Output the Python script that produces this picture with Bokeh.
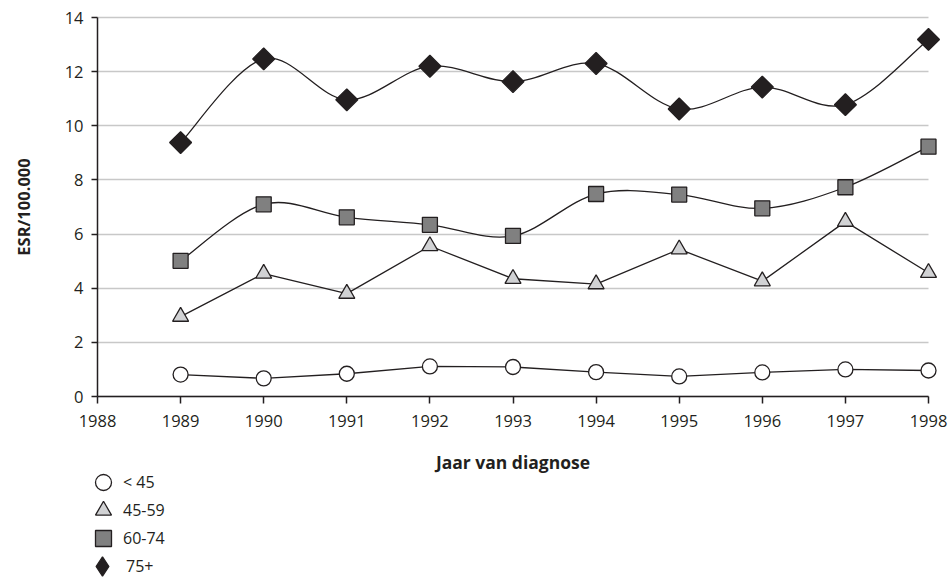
import numpy as np
from bokeh.plotting import figure
from bokeh.models import Range1d, FixedTicker, Legend, LegendItem, ColumnDataSource
from bokeh.embed import file_html
from bokeh.resources import INLINE

# ---- data ----
years = [1989, 1990, 1991, 1992, 1993, 1994, 1995, 1996, 1997, 1998]
lt45 = [0.81, 0.67, 0.84, 1.11, 1.09, 0.90, 0.74, 0.89, 1.00, 0.96]
a45_59 = [2.95, 4.54, 3.80, 5.56, 4.35, 4.15, 5.44, 4.26, 6.46, 4.57]
a60_74 = [5.01, 7.10, 6.62, 6.34, 5.93, 7.48, 7.46, 6.95, 7.73, 9.23]
a75 = [9.38, 12.47, 10.96, 12.20, 11.63, 12.30, 10.62, 11.43, 10.78, 13.19]
series_labels = ["< 45", "45-59", "60-74", "75+"]
x_ticks = [1988, 1989, 1990, 1991, 1992, 1993, 1994, 1995, 1996, 1997, 1998]
y_ticks = [0, 2, 4, 6, 8, 10, 12, 14]
x_title = "Jaar van diagnose"
y_title = "ESR/100.000"

# ---- layout / style constants (pixels) ----
W, H = 951, 581
PX_X_LEFT, PX_X_RIGHT = 97, 928     # pixel of first / last x tick
PX_Y_ZERO, PX_Y_TOP = 396, 17       # pixel of y = 0 / y = 14
INK = "#231f20"
FONT = "Open Sans"

px_per_year = (PX_X_RIGHT - PX_X_LEFT) / (x_ticks[-1] - x_ticks[0])
px_per_unit = (PX_Y_ZERO - PX_Y_TOP) / (y_ticks[-1] - y_ticks[0])
x_start = x_ticks[0] - PX_X_LEFT / px_per_year
x_end = x_ticks[-1] + (W - PX_X_RIGHT) / px_per_year
y_start = y_ticks[0] - (H - PX_Y_ZERO) / px_per_unit
y_end = y_ticks[-1] + PX_Y_TOP / px_per_unit


def smooth_segments(xs, ys):
    """Catmull-Rom style cubic Bezier segments through the data points."""
    x = np.asarray(xs, float)
    y = np.asarray(ys, float)
    xp = np.concatenate([[x[0]], x, [x[-1]]])
    yp = np.concatenate([[y[0]], y, [y[-1]]])
    i = np.arange(len(x) - 1)
    return dict(
        x0=x[i], y0=y[i], x1=x[i + 1], y1=y[i + 1],
        cx0=x[i] + (xp[i + 2] - xp[i]) / 6.0,
        cy0=y[i] + (yp[i + 2] - yp[i]) / 6.0,
        cx1=x[i + 1] - (xp[i + 3] - xp[i + 1]) / 6.0,
        cy1=y[i + 1] - (yp[i + 3] - yp[i + 1]) / 6.0,
    )


p = figure(
    width=W, height=H,
    x_range=Range1d(x_start, x_end),
    y_range=Range1d(y_start, y_end),
    output_backend="svg", toolbar_location=None,
    min_border_left=0, min_border_right=0, min_border_top=0, min_border_bottom=0,
)
p.outline_line_color = None
p.background_fill_color = "white"
p.border_fill_color = "white"

# axes (placed at the data origin inside the frame)
for ax in (p.xaxis[0], p.yaxis[0]):
    ax.axis_line_color = INK
    ax.axis_line_width = 1.5
    ax.major_tick_line_color = INK
    ax.major_tick_line_width = 1.5
    ax.major_tick_in = 0
    ax.minor_tick_line_color = None
    ax.major_label_text_font = FONT
    ax.major_label_text_font_size = "16.5px"
    ax.major_label_text_color = INK
    ax.axis_label_text_font = FONT
    ax.axis_label_text_font_style = "bold"
    ax.axis_label_text_color = INK

p.xaxis.fixed_location = y_ticks[0]
p.yaxis.fixed_location = x_ticks[0]
p.xaxis.ticker = FixedTicker(ticks=x_ticks)
p.yaxis.ticker = FixedTicker(ticks=y_ticks)
p.xaxis.bounds = (x_ticks[0], x_ticks[-1])
p.yaxis.bounds = (y_ticks[0], y_ticks[-1])
p.xaxis.major_tick_out = 7
p.yaxis.major_tick_out = 6
p.xaxis.major_label_standoff = 11
p.yaxis.major_label_standoff = 8
p.xaxis.axis_label = x_title
p.yaxis.axis_label = y_title
p.xaxis.axis_label_text_font_size = "17.5px"
p.yaxis.axis_label_text_font_size = "16.5px"
p.xaxis.axis_label_standoff = 20
p.yaxis.axis_label_standoff = 27

p.xgrid.visible = False
p.ygrid.grid_line_color = "#c8c8c8"
p.ygrid.grid_line_width = 1.6
p.ygrid.bounds = (y_ticks[1], y_ticks[-1])
if "cross_bounds" in p.ygrid[0].properties():
    p.ygrid[0].cross_bounds = (x_ticks[0], x_ticks[-1])

# lines
p.line(years, lt45, line_color=INK, line_width=1.3)
p.line(years, a45_59, line_color=INK, line_width=1.3)
p.bezier(source=ColumnDataSource(smooth_segments(years, a60_74)),
         x0="x0", y0="y0", x1="x1", y1="y1", cx0="cx0", cy0="cy0", cx1="cx1", cy1="cy1",
         line_color=INK, line_width=1.3)
p.bezier(source=ColumnDataSource(smooth_segments(years, a75)),
         x0="x0", y0="y0", x1="x1", y1="y1", cx0="cx0", cy0="cy0", cx1="cx1", cy1="cy1",
         line_color=INK, line_width=1.3)

# markers
r1 = p.scatter(years, lt45, marker="circle", size=15, fill_color="white",
               line_color=INK, line_width=1.3)
r2 = p.scatter(years, a45_59, marker="triangle", size=16, fill_color="#d1d2d4",
               line_color=INK, line_width=1.3)
r3 = p.scatter(years, a60_74, marker="square", size=15, fill_color="#808080",
               line_color=INK, line_width=1.3)
r4 = p.scatter(years, a75, marker="square", angle=np.pi / 4, size=15.5, fill_color=INK,
               line_color=INK, line_width=1.3)
# legend-only diamond (the legend ignores marker angles)
r4_key = p.scatter(years, a75, marker="diamond", size=22, fill_color=INK,
                   line_color=INK, line_width=1.3, visible=False)

# legend: one entry per Legend so the rows can sit closer than the glyph box
legend_centers = [482, 510, 538, 566]   # pixel rows of the legend entries
glyph_boxes = [40, 40, 40, 48]
key_columns = [103, 103, 103, 102]      # pixel columns of the legend symbols
for lab, r, cy, g, kx in zip(series_labels, [r1, r2, r3, r4_key], legend_centers,
                             glyph_boxes, key_columns):
    lg = Legend(
        items=[LegendItem(label=lab, renderers=[r])],
        location=(kx - g / 2, H - (cy + g / 2)),
        orientation="vertical",
        glyph_width=g, glyph_height=g,
        padding=0, margin=0, label_standoff=0,
        border_line_color=None, background_fill_alpha=0,
        inactive_fill_alpha=0,
        label_text_font=FONT, label_text_font_size="16px", label_text_color=INK,
    )
    p.add_layout(lg)

open("out.html", "w").write(file_html(p, INLINE))
